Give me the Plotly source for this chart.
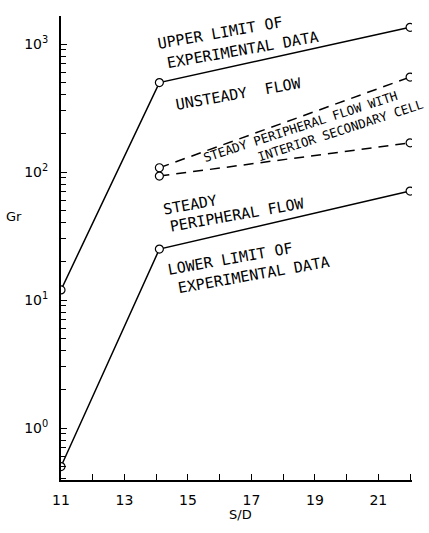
import plotly.graph_objects as go

# ---- data ----
sd_upper = [11, 14.1, 22]
gr_upper = [12, 500, 1350]

sd_lower = [11, 14.1, 22]
gr_lower = [0.5, 25, 71]

sd_dash_hi = [14.1, 22]
gr_dash_hi = [108, 552]

sd_dash_lo = [14.1, 22]
gr_dash_lo = [93, 169]

x_tickvals = [11, 13, 15, 17, 19, 21]
x_ticktext = ["11", "13", "15", "17", "19", "21"]
x_minor = [12, 14, 16, 18, 20, 22]

y_tickvals = [1, 10, 100, 1000]
y_ticktext = ["10<sup>0</sup>", "10<sup>1</sup>", "10<sup>2</sup>", "10<sup>3</sup>"]

FONT = "DejaVu Sans"
LFONT = "DejaVu Sans Mono"

fig = go.Figure()

line_style = dict(color="black", width=1.5)
marker_style = dict(symbol="circle", size=8, color="white", line=dict(color="black", width=1.2))

fig.add_trace(go.Scatter(x=sd_upper, y=gr_upper, mode="lines+markers",
                         line=line_style, marker=marker_style))
fig.add_trace(go.Scatter(x=sd_lower, y=gr_lower, mode="lines+markers",
                         line=line_style, marker=marker_style))
fig.add_trace(go.Scatter(x=sd_dash_hi, y=gr_dash_hi, mode="lines+markers",
                         line=dict(color="black", width=1.5, dash="10px,7px"),
                         marker=marker_style))
fig.add_trace(go.Scatter(x=sd_dash_lo, y=gr_dash_lo, mode="lines+markers",
                         line=dict(color="black", width=1.5, dash="10px,7px"),
                         marker=marker_style))

labels = [
    ("UPPER LIMIT OF", 16.02, 3.086, -10, 15),
    ("EXPERIMENTAL DATA", 16.74, 2.953, -10, 15),
    ("UNSTEADY  FLOW", 16.59, 2.610, -10, 15),
    ("STEADY PERIPHERAL FLOW WITH", 18.55, 2.352, -18, 12.5),
    ("INTERIOR SECONDARY CELL", 19.80, 2.321, -18, 12.5),
    ("STEADY", 15.07, 1.742, -10, 15),
    ("PERIPHERAL FLOW", 16.55, 1.664, -10, 15),
    ("LOWER LIMIT OF", 16.33, 1.321, -10, 15),
    ("EXPERIMENTAL DATA", 17.09, 1.196, -10, 15),
]
for text, x, ylog, ang, sz in labels:
    fig.add_annotation(x=x, y=ylog, xref="x", yref="y", text=text, showarrow=False,
                       textangle=ang, font=dict(family=LFONT, size=sz, color="black"))

fig.add_annotation(x=-0.134, y=1.65, xref="paper", yref="y", text="Gr", showarrow=False,
                   xanchor="center", yanchor="middle",
                   font=dict(family=FONT, size=13, color="black"))
fig.add_annotation(x=16.65, y=-0.075, xref="x", yref="paper", text="S/D", showarrow=False,
                   xanchor="center", yanchor="middle",
                   font=dict(family=FONT, size=13, color="black"))

y_minor = []
for d in [-1, 0, 1, 2]:
    for m in range(2, 10):
        v = m * 10 ** d
        if 0.39 < v < 1650:
            y_minor.append(v)

fig.update_layout(
    width=429, height=533,
    margin=dict(l=61, r=17, t=16, b=53),
    paper_bgcolor="white", plot_bgcolor="white",
    showlegend=False,
    font=dict(family=FONT, color="black"),
    xaxis=dict(range=[11, 22.06], showgrid=False, zeroline=False,
               showline=True, linecolor="black", linewidth=2,
               tickmode="array", tickvals=x_tickvals, ticktext=x_ticktext,
               ticks="inside", ticklen=6, tickwidth=1.2, tickcolor="black",
               ticklabelstandoff=6,
               tickfont=dict(family=FONT, size=14, color="black"),
               minor=dict(tickmode="array", tickvals=x_minor, ticks="inside",
                          ticklen=6, tickwidth=1.2, tickcolor="black", showgrid=False)),
    yaxis=dict(type="log", range=[-0.406, 3.219], showgrid=False, zeroline=False,
               showline=True, linecolor="black", linewidth=2,
               tickmode="array", tickvals=y_tickvals, ticktext=y_ticktext,
               ticks="inside", ticklen=6, tickwidth=1.2, tickcolor="black",
               ticklabelstandoff=8,
               tickfont=dict(family=FONT, size=14, color="black"),
               minor=dict(tickmode="array", tickvals=y_minor, ticks="inside",
                          ticklen=5, tickwidth=1.2, tickcolor="black", showgrid=False)),
)

fig.write_html("out.html", config={"displayModeBar": False},
               post_script="document.body.style.margin='0';document.body.style.overflow='hidden';")
